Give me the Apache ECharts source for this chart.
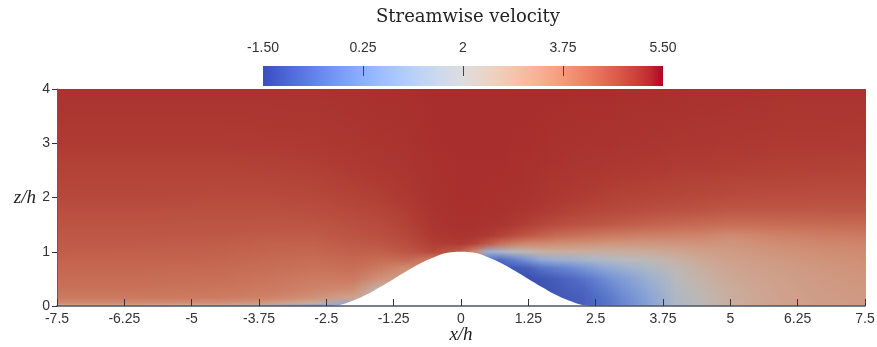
<!DOCTYPE html>
<html>
<head>
<meta charset="utf-8">
<script src="https://cdn.jsdelivr.net/npm/echarts@6/dist/echarts.min.js"></script>
<style>
  html, body { margin: 0; padding: 0; background: #fff; }
  #chart { width: 877px; height: 347px; }
</style>
</head>
<body>
<div id="chart"></div>
<script>
// Heights (z/h) at which every velocity profile is sampled, bottom to top
const zLevels = [0, 0.05, 0.15, 0.3, 0.5, 0.7, 0.85, 1.0, 1.15, 1.3, 1.5, 1.75, 2.0, 2.5, 3.0, 4.0];

// Streamwise stations (x/h) of the profiles
const xStations = [-7.5, -6, -4.5, -3.5, -2.75, -2, -1.5, -1, -0.5, 0, 0.25, 0.5, 0.75, 1, 1.25,
                   1.5, 1.75, 2, 2.25, 2.5, 2.75, 3, 3.5, 4, 4.5, 5, 5.5, 6, 6.75, 7.5];

// Streamwise velocity profile at each station (values at zLevels, bottom to top);
// entries below the hill surface repeat the near-wall value
const uProfiles = [
  [2.6, 3.5, 3.9, 4.05, 4.15, 4.25, 4.32, 4.4, 4.46, 4.51, 4.57, 4.65, 4.75, 4.85, 4.96, 5.07],
  [2.6, 3.5, 3.9, 4.05, 4.15, 4.25, 4.32, 4.39, 4.45, 4.51, 4.57, 4.65, 4.75, 4.85, 4.96, 5.07],
  [2.3, 3.4, 3.85, 4.0, 4.1, 4.2, 4.28, 4.35, 4.42, 4.5, 4.56, 4.64, 4.74, 4.85, 4.96, 5.07],
  [1.2, 3.1, 3.7, 3.9, 4.0, 4.12, 4.2, 4.28, 4.36, 4.45, 4.54, 4.64, 4.74, 4.86, 4.97, 5.07],
  [0.4, 2.6, 3.4, 3.7, 3.88, 4.05, 4.15, 4.26, 4.36, 4.46, 4.56, 4.66, 4.77, 4.89, 4.99, 5.08],
  [0.8, 0.8, 2.9, 3.5, 3.9, 4.12, 4.25, 4.38, 4.48, 4.57, 4.65, 4.75, 4.85, 4.96, 5.03, 5.1],
  [2.2, 2.2, 2.2, 2.2, 3.4, 3.9, 4.15, 4.38, 4.54, 4.63, 4.72, 4.82, 4.91, 5.0, 5.06, 5.11],
  [3.0, 3.0, 3.0, 3.0, 3.0, 3.5, 4.2, 4.54, 4.68, 4.78, 4.86, 4.93, 4.99, 5.05, 5.08, 5.12],
  [3.8, 3.8, 3.8, 3.8, 3.8, 3.8, 3.8, 4.75, 4.92, 5.0, 5.05, 5.07, 5.09, 5.1, 5.12, 5.13],
  [4.4, 4.4, 4.4, 4.4, 4.4, 4.4, 4.4, 4.4, 4.96, 5.06, 5.1, 5.11, 5.12, 5.12, 5.13, 5.14],
  [3.2, 3.2, 3.2, 3.2, 3.2, 3.2, 3.2, 3.6, 4.85, 5.05, 5.1, 5.11, 5.12, 5.12, 5.13, 5.14],
  [-0.5, -0.5, -0.5, -0.5, -0.5, -0.5, -0.5, 1.2, 4.5, 4.96, 5.07, 5.1, 5.11, 5.12, 5.13, 5.14],
  [-1.0, -1.0, -1.0, -1.0, -1.0, -1.0, -0.7, 1.5, 4.1, 4.85, 5.05, 5.09, 5.1, 5.12, 5.13, 5.14],
  [-1.15, -1.15, -1.15, -1.15, -1.15, -1.05, -0.2, 1.9, 3.8, 4.68, 4.98, 5.06, 5.09, 5.11, 5.12, 5.14],
  [-1.2, -1.2, -1.2, -1.2, -1.2, -0.9, 0.3, 2.2, 3.6, 4.5, 4.89, 5.03, 5.07, 5.1, 5.12, 5.14],
  [-1.15, -1.15, -1.15, -1.15, -1.1, -0.5, 0.9, 2.5, 3.6, 4.35, 4.79, 4.97, 5.04, 5.08, 5.11, 5.14],
  [-1.05, -1.05, -1.05, -1.05, -0.95, -0.25, 1.1, 2.55, 3.5, 4.22, 4.71, 4.92, 5.0, 5.06, 5.1, 5.14],
  [-0.95, -0.95, -0.95, -0.9, -0.75, -0.05, 1.25, 2.55, 3.45, 4.12, 4.64, 4.86, 4.97, 5.05, 5.09, 5.14],
  [-0.85, -0.9, -0.88, -0.8, -0.55, 0.25, 1.4, 2.55, 3.4, 4.05, 4.58, 4.82, 4.94, 5.03, 5.08, 5.13],
  [-0.5, -0.7, -0.65, -0.5, -0.2, 0.6, 1.6, 2.55, 3.35, 3.98, 4.54, 4.78, 4.91, 5.02, 5.07, 5.13],
  [-0.25, -0.45, -0.4, -0.2, 0.15, 0.9, 1.75, 2.55, 3.3, 3.9, 4.49, 4.75, 4.88, 5.0, 5.07, 5.13],
  [0.0, -0.1, 0.0, 0.2, 0.5, 1.15, 1.9, 2.6, 3.25, 3.85, 4.42, 4.71, 4.85, 4.99, 5.06, 5.12],
  [0.8, 0.7, 0.75, 0.9, 1.2, 1.65, 2.1, 2.7, 3.25, 3.78, 4.32, 4.65, 4.82, 4.97, 5.05, 5.12],
  [1.6, 1.6, 1.65, 1.75, 1.9, 2.15, 2.45, 2.85, 3.3, 3.72, 4.25, 4.6, 4.78, 4.94, 5.03, 5.11],
  [2.1, 2.1, 2.15, 2.25, 2.4, 2.6, 2.8, 3.05, 3.35, 3.7, 4.18, 4.56, 4.75, 4.92, 5.02, 5.1],
  [2.55, 2.55, 2.6, 2.65, 2.75, 2.88, 3.0, 3.15, 3.3, 3.55, 4.1, 4.5, 4.71, 4.9, 5.0, 5.1],
  [2.8, 2.8, 2.82, 2.86, 2.93, 3.03, 3.12, 3.25, 3.42, 3.65, 4.12, 4.5, 4.69, 4.89, 4.99, 5.09],
  [2.95, 2.95, 2.97, 3.0, 3.05, 3.13, 3.22, 3.35, 3.52, 3.75, 4.15, 4.5, 4.68, 4.87, 4.98, 5.08],
  [3.1, 3.1, 3.12, 3.15, 3.2, 3.27, 3.35, 3.47, 3.63, 3.85, 4.18, 4.5, 4.67, 4.86, 4.97, 5.07],
  [3.2, 3.2, 3.22, 3.25, 3.3, 3.37, 3.45, 3.55, 3.7, 3.9, 4.2, 4.5, 4.66, 4.85, 4.96, 5.07]
];

// Hill surface profile z/h over x/h
const hillX = [-2.5, -2.25, -2, -1.75, -1.5, -1.25, -1, -0.75, -0.5, -0.25, 0,
               0.25, 0.5, 0.75, 1, 1.25, 1.5, 1.75, 2, 2.25, 2.5];
const hillZ = [0, 0.02, 0.1, 0.21, 0.35, 0.5, 0.65, 0.79, 0.9, 0.98, 1,
               0.98, 0.9, 0.79, 0.65, 0.5, 0.35, 0.21, 0.1, 0.02, 0];

// Colour bar range and its ticks
const cbRange = [-1.5, 5.5];
const cbTickValues = [-1.5, 0.25, 2, 3.75, 5.5];
const cbTickLabels = ['-1.50', '0.25', '2', '3.75', '5.50'];
const cbInnerTicks = [0.25, 2, 3.75];

// Cool-to-warm diverging colour map, evenly spaced over cbRange
const coolwarm = [
  [59, 76, 192], [68, 90, 204], [77, 104, 215], [87, 117, 225], [98, 130, 234],
  [108, 142, 241], [119, 154, 247], [130, 165, 251], [141, 176, 254], [152, 185, 255],
  [163, 194, 255], [174, 201, 253], [184, 208, 249], [194, 213, 244], [204, 217, 238],
  [213, 219, 230], [221, 221, 221], [229, 216, 209], [236, 211, 197], [241, 204, 185],
  [245, 196, 173], [247, 187, 160], [247, 177, 148], [247, 166, 135], [244, 154, 123],
  [241, 141, 111], [236, 127, 99], [229, 112, 88], [222, 96, 77], [213, 80, 66],
  [203, 62, 56], [192, 40, 47], [180, 4, 38]
];

// Lighting factor of the shaded field surface (the colour bar is unlit)
const FIELD_SHADE = 0.84;
// Number of cross-fade slices between two neighbouring profiles
const FADE_STEPS = 16;

function cwColor(v, shade) {
  const t = Math.max(0, Math.min(1, (v - cbRange[0]) / (cbRange[1] - cbRange[0])));
  const p = t * (coolwarm.length - 1);
  const i = Math.min(Math.floor(p), coolwarm.length - 2);
  const f = p - i;
  const c = coolwarm[i].map((a, k) => Math.round((a + (coolwarm[i + 1][k] - a) * f) * shade));
  return 'rgb(' + c[0] + ',' + c[1] + ',' + c[2] + ')';
}

const zTop = zLevels[zLevels.length - 1];
const zBot = zLevels[0];

// vertical colour ramp of one profile
function profileGradient(col) {
  const u = uProfiles[col];
  const stops = [];
  for (let k = zLevels.length - 1; k >= 0; k--) {
    stops.push({ offset: (zTop - zLevels[k]) / (zTop - zBot), color: cwColor(u[k], FIELD_SHADE) });
  }
  return new echarts.graphic.LinearGradient(0, 0, 0, 1, stops);
}

// one panel between station i and station i+1: the left profile, faded into the right one
function renderPanel(params, api) {
  const i = params.dataIndex;
  const pL = api.coord([xStations[i], zTop]);
  const pR = api.coord([xStations[i + 1], zBot]);
  const x0 = Math.round(pL[0]);
  const x1 = Math.round(pR[0]);
  const y0 = pL[1];
  const h = pR[1] - pL[1];
  const gL = profileGradient(i);
  const gR = profileGradient(i + 1);
  const children = [{
    type: 'rect',
    shape: { x: x0, y: y0, width: x1 - x0 + 1, height: h },
    style: { fill: gL }
  }];
  for (let s = 0; s < FADE_STEPS; s++) {
    const a = Math.round(x0 + (x1 - x0) * s / FADE_STEPS);
    const b = Math.round(x0 + (x1 - x0) * (s + 1) / FADE_STEPS);
    if (b <= a) continue;
    children.push({
      type: 'rect',
      shape: { x: a, y: y0, width: b - a, height: h },
      style: { fill: gR, opacity: (s + 0.5) / FADE_STEPS }
    });
  }
  return { type: 'group', children: children };
}

function renderColorBar(params, api) {
  const p0 = api.coord([cbRange[0], 1]);
  const p1 = api.coord([cbRange[1], 0]);
  const stops = coolwarm.map((c, k) => ({
    offset: k / (coolwarm.length - 1),
    color: 'rgb(' + c[0] + ',' + c[1] + ',' + c[2] + ')'
  }));
  return {
    type: 'rect',
    shape: { x: p0[0], y: p0[1], width: p1[0] - p0[0], height: p1[1] - p0[1] },
    style: { fill: new echarts.graphic.LinearGradient(0, 0, 1, 0, stops) }
  };
}

const chart = echarts.init(document.getElementById('chart'), null, { renderer: 'canvas' });

const tickFont = { fontFamily: 'Liberation Sans', fontSize: 14, color: '#333' };
const axisNameFont = { fontFamily: 'Liberation Serif', fontStyle: 'italic', fontSize: 19, color: '#222' };

chart.setOption({
  animation: false,
  backgroundColor: '#fff',
  title: {
    text: 'Streamwise velocity',
    left: 463,
    top: 3,
    textAlign: 'center',
    textStyle: { fontFamily: 'DejaVu Serif', fontSize: 18, fontWeight: 'normal', color: '#222' }
  },
  grid: [
    { left: 57, right: 12, top: 89, bottom: 41, containLabel: false, outerBoundsMode: 'none' },
    { left: 263, width: 400, top: 66, height: 20, containLabel: false, outerBoundsMode: 'none' }
  ],
  xAxis: [
    {
      type: 'value', gridIndex: 0, min: -7.5, max: 7.5, interval: 1.25, z: 10,
      name: 'x/h', nameLocation: 'middle', nameGap: 19, nameMoveOverlap: false,
      nameTextStyle: axisNameFont,
      axisLine: { show: true, onZero: false, lineStyle: { color: '#4d5463', width: 1.5 } },
      axisTick: { show: true, inside: true, length: 7, lineStyle: { color: '#333' } },
      axisLabel: Object.assign({ margin: 6, showMinLabel: true, showMaxLabel: true }, tickFont),
      splitLine: { show: false }
    },
    {
      type: 'value', gridIndex: 1, position: 'top', min: cbRange[0], max: cbRange[1], z: 10,
      axisLine: { show: false, onZero: false },
      axisTick: { show: true, inside: true, length: 10, customValues: cbInnerTicks, lineStyle: { color: '#444' } },
      axisLabel: Object.assign({
        margin: 11,
        customValues: cbTickValues,
        formatter: function (v) {
          const j = cbTickValues.findIndex(t => Math.abs(t - v) < 1e-6);
          return j >= 0 ? cbTickLabels[j] : '';
        }
      }, tickFont),
      splitLine: { show: false }
    }
  ],
  yAxis: [
    {
      type: 'value', gridIndex: 0, min: 0, max: 4, interval: 1, z: 10,
      name: 'z/h', nameLocation: 'middle', nameRotate: 0, nameGap: 21, nameTextStyle: axisNameFont,
      axisLine: { show: true, onZero: false, lineStyle: { color: '#6a5a58', width: 1 } },
      axisTick: { show: true, length: 5, lineStyle: { color: '#333' } },
      axisLabel: Object.assign({ margin: 7 }, tickFont),
      splitLine: { show: false }
    },
    { type: 'value', gridIndex: 1, min: 0, max: 1, show: false }
  ],
  series: [
    {
      type: 'custom',
      name: 'field',
      xAxisIndex: 0, yAxisIndex: 0,
      z: 1,
      renderItem: renderPanel,
      data: xStations.slice(0, -1).map((x, i) => [x, i]),
      encode: { x: 0 },
      silent: true
    },
    {
      type: 'line',
      name: 'hill',
      xAxisIndex: 0, yAxisIndex: 0,
      z: 3,
      data: hillX.map((x, i) => [x, hillZ[i]]),
      smooth: 0.4,
      symbol: 'none',
      lineStyle: { width: 0 },
      areaStyle: { color: '#ffffff', opacity: 1 },
      silent: true
    },
    {
      type: 'custom',
      name: 'colorbar',
      xAxisIndex: 1, yAxisIndex: 1,
      z: 1,
      renderItem: renderColorBar,
      data: [[cbRange[0], cbRange[1]]],
      encode: { x: 0 },
      silent: true
    }
  ]
});
</script>
</body>
</html>
